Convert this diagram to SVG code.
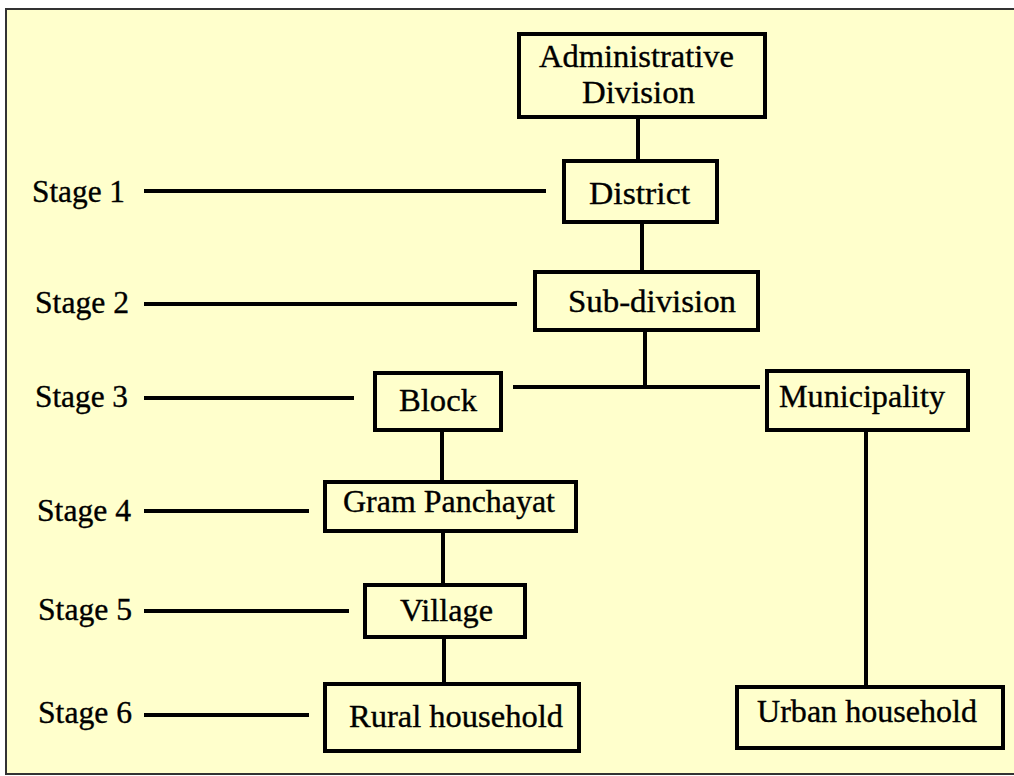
<svg xmlns="http://www.w3.org/2000/svg" width="1014" height="776" viewBox="0 0 1014 776">
  <style>
    .box { fill: none; stroke: #000; stroke-width: 4; }
    .conn line { stroke: #000; stroke-width: 4; }
    text { font-family: "Liberation Serif", "Times New Roman", serif; font-size: 31px; fill: #000; stroke: #000; stroke-width: 0.35; }
  </style>
  <rect x="0" y="0" width="1014" height="776" fill="#ffffff"/>
  <rect x="6" y="9" width="1020" height="765" fill="#ffffcc" stroke="#333" stroke-width="2"/>

  <g id="connectors" class="conn">
    <line x1="638" y1="119" x2="638" y2="159"/>
    <line x1="642" y1="224" x2="642" y2="270"/>
    <line x1="645" y1="332" x2="645" y2="387"/>
    <line x1="513" y1="387" x2="760" y2="387"/>
    <line x1="442" y1="432" x2="442" y2="480"/>
    <line x1="443" y1="533" x2="443" y2="583"/>
    <line x1="444" y1="639" x2="444" y2="682"/>
    <line x1="866" y1="432" x2="866" y2="685"/>
    <line x1="144" y1="191" x2="546" y2="191"/>
    <line x1="144" y1="304" x2="517" y2="304"/>
    <line x1="144" y1="398" x2="354" y2="398"/>
    <line x1="144" y1="511" x2="309" y2="511"/>
    <line x1="144" y1="611" x2="349" y2="611"/>
    <line x1="144" y1="715" x2="309" y2="715"/>
  </g>

  <g id="stages">
    <text x="32" y="202" textLength="93" lengthAdjust="spacingAndGlyphs">Stage 1</text>
    <text x="35" y="313" textLength="94" lengthAdjust="spacingAndGlyphs">Stage 2</text>
    <text x="35" y="407" textLength="93" lengthAdjust="spacingAndGlyphs">Stage 3</text>
    <text x="37" y="521" textLength="94" lengthAdjust="spacingAndGlyphs">Stage 4</text>
    <text x="38" y="620" textLength="94" lengthAdjust="spacingAndGlyphs">Stage 5</text>
    <text x="38" y="723" textLength="94" lengthAdjust="spacingAndGlyphs">Stage 6</text>
  </g>

  <g id="admin-division">
    <rect class="box" x="519" y="34" width="246" height="83"/>
    <text x="539" y="67" textLength="195" lengthAdjust="spacingAndGlyphs">Administrative</text>
    <text x="582" y="103" textLength="113" lengthAdjust="spacingAndGlyphs">Division</text>
  </g>
  <g id="district">
    <rect class="box" x="564" y="161" width="153" height="61"/>
    <text x="589" y="204" textLength="101" lengthAdjust="spacingAndGlyphs">District</text>
  </g>
  <g id="sub-division">
    <rect class="box" x="535" y="272" width="223" height="58"/>
    <text x="568" y="312" textLength="168" lengthAdjust="spacingAndGlyphs">Sub-division</text>
  </g>
  <g id="block">
    <rect class="box" x="375" y="373" width="126" height="57"/>
    <text x="399" y="411" textLength="78" lengthAdjust="spacingAndGlyphs">Block</text>
  </g>
  <g id="municipality">
    <rect class="box" x="767" y="371" width="201" height="59"/>
    <text x="779" y="407" textLength="166" lengthAdjust="spacingAndGlyphs">Municipality</text>
  </g>
  <g id="gram-panchayat">
    <rect class="box" x="325" y="482" width="251" height="49"/>
    <text x="343" y="512" textLength="212" lengthAdjust="spacingAndGlyphs">Gram Panchayat</text>
  </g>
  <g id="village">
    <rect class="box" x="365" y="585" width="160" height="52"/>
    <text x="400" y="621" textLength="93" lengthAdjust="spacingAndGlyphs">Village</text>
  </g>
  <g id="rural-household">
    <rect class="box" x="325" y="684" width="254" height="67"/>
    <text x="349" y="727" textLength="214" lengthAdjust="spacingAndGlyphs">Rural household</text>
  </g>
  <g id="urban-household">
    <rect class="box" x="737" y="687" width="266" height="61"/>
    <text x="757" y="722" textLength="220" lengthAdjust="spacingAndGlyphs">Urban household</text>
  </g>
</svg>
